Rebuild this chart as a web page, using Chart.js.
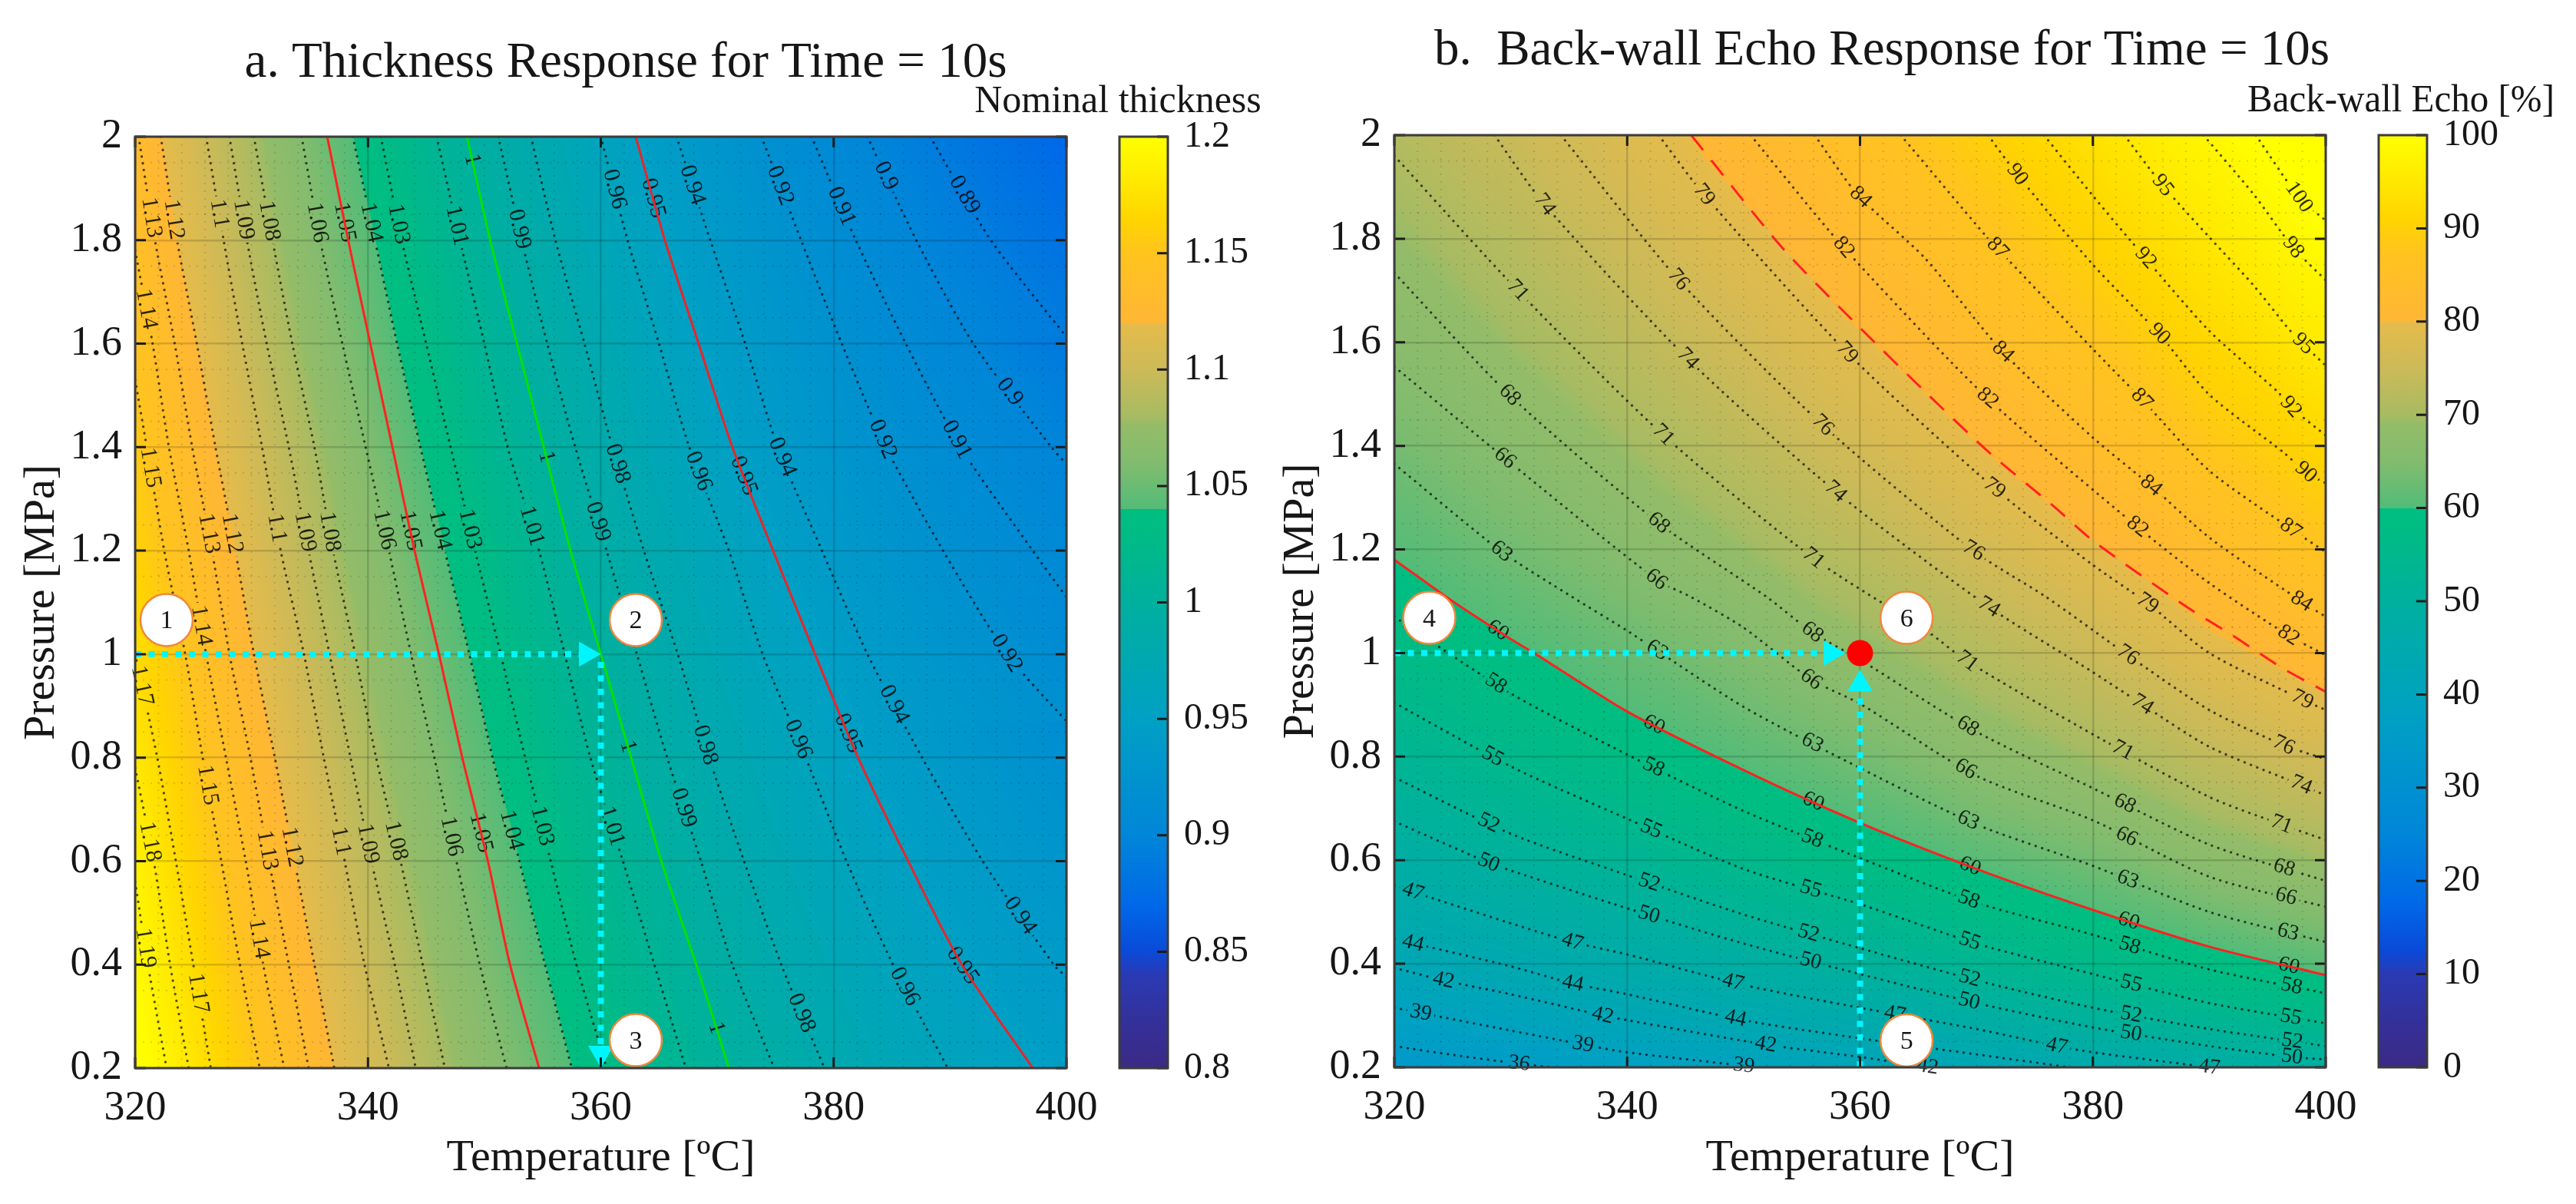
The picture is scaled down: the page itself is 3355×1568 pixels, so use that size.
<!DOCTYPE html>
<html>
<head>
<meta charset="utf-8">
<title>Thickness and back-wall echo response</title>
<script src="https://cdn.jsdelivr.net/npm/chart.js@4"></script>
<style>
  html, body { margin: 0; padding: 0; background: #fff; }
  body { position: relative; width: 3355px; height: 1568px; overflow: hidden; }
  canvas { position: absolute; top: 0; }
</style>
</head>
<body>
<canvas id="mainA" width="1630" height="1568" style="left:0"></canvas>
<canvas id="barA" width="400" height="1568" style="left:1256px"></canvas>
<canvas id="mainB" width="1622" height="1568" style="left:1640px"></canvas>
<canvas id="barB" width="400" height="1568" style="left:2927px"></canvas>
<script>
// tick values
const tempTicks = [320, 340, 360, 380, 400];
const pressTicks = [0.2, 0.4, 0.6, 0.8, 1, 1.2, 1.4, 1.6, 1.8, 2];
const thickBarTicks = [0.8, 0.85, 0.9, 0.95, 1, 1.05, 1.1, 1.15, 1.2];
const echoBarTicks = [0, 10, 20, 30, 40, 50, 60, 70, 80, 90, 100];

// colour bar (position 0..1 along the bar)
const mapStops = [0, 0.05, 0.1, 0.125, 0.175, 0.25, 0.375, 0.5, 0.575, 0.6, 0.6, 0.65, 0.69, 0.7, 0.75, 0.8, 0.8, 0.875, 0.91, 0.95, 1];
const mapColors = ['#3b2a85', '#34309a', '#2a3ab4', '#0a4ad8', '#0068e8', '#0086d8', '#00a0c4', '#00b09e', '#00bc84', '#00be80',
  '#52bc78', '#82bc6e', '#94bc68', '#a8bb62', '#ccba58', '#e6bb4a', '#ffb636', '#ffc41e', '#ffd400', '#ffe800', '#ffff00'];

// panel a: iso-thickness lines as [temperature, pressure]
const a119 = [[320, 0.56], [321.1, 0.4], [322.7, 0.2]];
const a118 = [[320, 0.78], [321.6, 0.6], [323, 0.4], [324.6, 0.2]];
const a117 = [[320, 1], [321.9, 0.8], [323.5, 0.6], [325, 0.4], [326.5, 0.2]];
const a115 = [[320, 1.53], [321, 1.4], [322.5, 1.2], [324.3, 1], [325.8, 0.8], [327.4, 0.6], [329, 0.4], [330.7, 0.2]];
const a114 = [[320, 1.78], [321.5, 1.6], [322.9, 1.4], [324.6, 1.2], [326.1, 1], [327.8, 0.8], [329.5, 0.6], [331, 0.4], [332.8, 0.2]];
const a113 = [[320.3, 2], [321.7, 1.8], [323.4, 1.6], [324.9, 1.4], [326.6, 1.2], [328.1, 1], [329.9, 0.8], [331.5, 0.6], [333.2, 0.4], [334.9, 0.2]];
const a112 = [[322.2, 2], [323.6, 1.8], [325.3, 1.6], [326.9, 1.4], [328.6, 1.2], [330.2, 1], [332, 0.8], [333.7, 0.6], [335.4, 0.4], [337.1, 0.2]];
const a110 = [[326.1, 2], [327.6, 1.8], [329.2, 1.6], [330.9, 1.4], [332.5, 1.2], [334.5, 1], [336.2, 0.8], [338, 0.6], [339.7, 0.4], [341.8, 0.2]];
const a109 = [[328.1, 2], [329.6, 1.8], [331.3, 1.6], [333.2, 1.4], [334.9, 1.2], [336.7, 1], [338.5, 0.8], [340.3, 0.6], [342.3, 0.4], [344.1, 0.2]];
const a108 = [[330.2, 2], [331.8, 1.8], [333.5, 1.6], [335.4, 1.4], [337, 1.2], [338.9, 1], [340.7, 0.8], [342.8, 0.6], [344.7, 0.4], [346.6, 0.2]];
const a106 = [[334.3, 2], [335.9, 1.8], [337.8, 1.6], [339.8, 1.4], [341.8, 1.2], [343.7, 1], [345.7, 0.8], [347.6, 0.6], [349.6, 0.4], [351.9, 0.2]];
const a105 = [[336.5, 2], [338.3, 1.8], [340.2, 1.6], [342.1, 1.4], [344, 1.2], [346.1, 1], [348.1, 0.8], [350.3, 0.6], [352.2, 0.4], [354.7, 0.2]];
const a104 = [[338.7, 2], [340.6, 1.8], [342.5, 1.6], [344.5, 1.4], [346.6, 1.2], [348.7, 1], [350.7, 0.8], [353, 0.6], [355.2, 0.4], [357.5, 0.2]];
const a103 = [[341.1, 2], [342.9, 1.8], [345, 1.6], [347.1, 1.4], [349.2, 1.2], [351.4, 1], [353.5, 0.8], [355.7, 0.6], [357.9, 0.4], [360.5, 0.2]];
const a101 = [[345.9, 2], [347.9, 1.8], [350, 1.6], [352, 1.4], [354.7, 1.2], [356.9, 1], [359.1, 0.8], [361.9, 0.6], [364.6, 0.4], [367.3, 0.2]];
const a100 = [[348.5, 2], [350.5, 1.8], [352.8, 1.6], [355.1, 1.4], [357.4, 1.2], [360, 1], [362.6, 0.8], [365.2, 0.6], [368.2, 0.4], [371, 0.2]];
const a099 = [[351.2, 2], [353.2, 1.8], [355.4, 1.6], [357.8, 1.4], [360.5, 1.2], [363.1, 1], [365.7, 0.8], [368.6, 0.6], [371.3, 0.4], [374.9, 0.2]];
const a098 = [[354, 2], [356.1, 1.8], [358.6, 1.6], [361, 1.4], [363.7, 1.2], [366.6, 1], [369.3, 0.8], [372.3, 0.6], [375.5, 0.4], [379.2, 0.2]];
const a096 = [[360, 2], [362.3, 1.8], [365, 1.6], [367.6, 1.4], [371, 1.2], [373.9, 1], [377.6, 0.8], [381.1, 0.6], [385.1, 0.4], [389.8, 0.2]];
const a095 = [[363, 2], [365.5, 1.8], [368.4, 1.6], [371.3, 1.4], [374.8, 1.2], [378.4, 1], [382.1, 0.8], [386.4, 0.6], [391, 0.4], [397.1, 0.2]];
const a094 = [[366.5, 2], [369.4, 1.8], [372.4, 1.6], [375.2, 1.4], [379, 1.2], [382.9, 1], [387.6, 0.8], [392.8, 0.6], [398.9, 0.4], [400, 0.376]];
const a092 = [[373.8, 2], [377.2, 1.8], [380.7, 1.6], [384.5, 1.4], [389.4, 1.2], [394.9, 1], [400, 0.87]];
const a091 = [[378.1, 2], [381.9, 1.8], [386.2, 1.6], [390.9, 1.4], [397.1, 1.2], [400, 1.11]];
const a090 = [[382.9, 2], [387.1, 1.8], [392, 1.6], [398.7, 1.4], [400, 1.367]];
const a089 = [[388.3, 2], [393.5, 1.8], [400, 1.613]];
const thickLevels = ['1.19', '1.18', '1.17', '1.15', '1.14', '1.13', '1.12', '1.1', '1.09', '1.08', '1.06', '1.05', '1.04', '1.03', '1.01', '1', '0.99', '0.98', '0.96', '0.95', '0.94', '0.92', '0.91', '0.9', '0.89'];
const thickLines = [a119, a118, a117, a115, a114, a113, a112, a110, a109, a108, a106, a105, a104, a103, a101, a100, a099, a098, a096, a095, a094, a092, a091, a090, a089];

// labels on the iso-thickness lines: [text, temperature, pressure]
const thickLabels = [
  ['1.13', 320.9, 1.842], ['1.12', 323.1, 1.839], ['1.1', 326.9, 1.85], ['1.09', 329.1, 1.839], ['1.08', 331.2, 1.836],
  ['1.06', 335.4, 1.833], ['1.05', 337.6, 1.833], ['1.04', 340.1, 1.833], ['1.03', 342.4, 1.83], ['1.01', 347.4, 1.827],
  ['1', 349, 1.956], ['0.99', 352.8, 1.82], ['1.14', 320.8, 1.666], ['1.15', 321.2, 1.36], ['1.13', 326.1, 1.232],
  ['1.12', 328.1, 1.232], ['1.1', 332, 1.243], ['1.09', 334.3, 1.235], ['1.08', 336.4, 1.235], ['1.06', 341, 1.238],
  ['1.05', 343.5, 1.238], ['1.04', 345.8, 1.238], ['1.03', 348.4, 1.24], ['1.01', 353.8, 1.246], ['1', 355.1, 1.38],
  ['0.99', 359.2, 1.252], ['0.96', 360.9, 1.897], ['0.95', 364.3, 1.88], ['0.94', 367.4, 1.903], ['0.92', 375.1, 1.903],
  ['0.91', 380.3, 1.862], ['0.9', 384.2, 1.921], ['0.89', 390.9, 1.883], ['0.9', 394.8, 1.501], ['0.92', 384.3, 1.416],
  ['0.91', 390.2, 1.41], ['0.94', 375.6, 1.381], ['0.95', 372.1, 1.343], ['0.96', 368.2, 1.352], ['0.98', 361.3, 1.367],
  ['1.14', 325.7, 1.055], ['1.17', 320.8, 0.94], ['1.15', 326, 0.746], ['1.18', 321.2, 0.637], ['1.13', 331.1, 0.62],
  ['1.12', 333.2, 0.626], ['1.1', 337.3, 0.637], ['1.09', 339.7, 0.632], ['1.08', 342, 0.637], ['1.06', 346.8, 0.646],
  ['1.05', 349.2, 0.652], ['1.04', 352, 0.658], ['1.03', 354.8, 0.667], ['1.19', 320.9, 0.432], ['1.14', 330.4, 0.449],
  ['1.17', 325.3, 0.344], ['0.92', 394.9, 1.002], ['0.94', 384.9, 0.899], ['0.95', 380.8, 0.843], ['0.96', 376.5, 0.831],
  ['0.98', 368.8, 0.823], ['1', 362.1, 0.82], ['0.99', 367, 0.702], ['1.01', 360.9, 0.667], ['0.94', 395.6, 0.488],
  ['0.95', 391, 0.397], ['0.96', 385.9, 0.355], ['0.98', 377.2, 0.306], ['1', 369.7, 0.276]
];

// panel b: iso-echo lines as [temperature, pressure]
const b36 = [[320, 0.241], [325, 0.224], [330, 0.209], [333.5, 0.2]];
const b39 = [[320, 0.315], [330, 0.271], [336.2, 0.244], [340, 0.229], [350, 0.203], [351, 0.2]];
const b42 = [[320, 0.392], [324.2, 0.368], [330, 0.341], [337.9, 0.3], [340, 0.291], [351.9, 0.244], [360, 0.22], [366, 0.2]];
const b44 = [[320, 0.448], [330, 0.395], [335.3, 0.362], [340, 0.341], [350, 0.291], [360, 0.256], [370, 0.225], [378, 0.2]];
const b47 = [[320, 0.551], [321.6, 0.539], [330, 0.478], [335.3, 0.442], [340, 0.418], [350, 0.359], [360, 0.315], [370, 0.274], [376.9, 0.241], [380, 0.229], [390, 0.2]];
const b50 = [[320, 0.675], [328.1, 0.595], [330, 0.58], [340, 0.507], [350, 0.439], [360, 0.38], [370, 0.324], [380, 0.277], [390, 0.241], [397.1, 0.22], [400, 0.215]];
const b52 = [[320, 0.76], [330, 0.651], [340, 0.571], [350, 0.495], [360, 0.43], [370, 0.368], [380, 0.315], [390, 0.274], [400, 0.241]];
const b55 = [[320, 0.904], [330, 0.781], [340, 0.68], [350, 0.583], [360, 0.515], [370, 0.439], [380, 0.38], [390, 0.324], [400, 0.285]];
const b58 = [[320, 1.07], [330, 0.922], [340, 0.804], [350, 0.695], [360, 0.604], [370, 0.518], [380, 0.456], [390, 0.389], [400, 0.343]];
const b60 = [[320, 1.18], [325, 1.1], [330, 1.027], [332, 1], [340, 0.887], [350, 0.774], [360, 0.672], [370, 0.583], [380, 0.504], [390, 0.433], [400, 0.378]];
const b63 = [[320, 1.365], [329.2, 1.196], [335.3, 1.108], [340, 1.043], [350, 0.896], [360, 0.778], [370, 0.669], [380, 0.589], [390, 0.5], [400, 0.442]];
const b66 = [[320, 1.553], [329.5, 1.376], [342.5, 1.142], [345.5, 1.108], [350, 1.049], [355.8, 0.949], [360, 0.902], [370, 0.763], [380, 0.677], [390, 0.568], [400, 0.51]];
const b68 = [[320, 1.734], [329.9, 1.498], [342.7, 1.251], [352, 1.108], [355.9, 1.04], [360, 0.987], [370, 0.848], [380, 0.739], [390, 0.63], [400, 0.56]];
const b71 = [[320, 1.96], [330.6, 1.7], [343.1, 1.421], [356, 1.183], [365.9, 1.04], [369.2, 0.984], [380, 0.843], [390, 0.722], [396.2, 0.669], [400, 0.639]];
const b74 = [[328.6, 2], [332.9, 1.866], [345.2, 1.568], [357.9, 1.312], [371, 1.09], [380, 0.963], [384.3, 0.9], [390, 0.819], [397.9, 0.745], [400, 0.725]];
const b76 = [[334.3, 2], [344.4, 1.721], [356.8, 1.44], [369.7, 1.198], [376, 1.108], [383, 0.996], [390, 0.89], [396.4, 0.822], [400, 0.795]];
const b79 = [[342.7, 2], [346.6, 1.885], [358.9, 1.58], [371.5, 1.319], [380, 1.17], [384.7, 1.096], [390, 1], [398, 0.91], [400, 0.89]];
const b82 = [[350.6, 2], [358.6, 1.783], [370.9, 1.493], [383.8, 1.244], [390, 1.135], [396.8, 1.034], [400, 0.996]];
const b84 = [[356.1, 2], [359.8, 1.885], [365.6, 1.762], [372.2, 1.583], [380, 1.416], [385, 1.323], [390, 1.223], [397.9, 1.1], [400, 1.07]];
const b87 = [[363.5, 2], [370.9, 1.803], [372.7, 1.76], [380, 1.587], [384.2, 1.49], [390, 1.352], [397, 1.24], [400, 1.195]];
const b90 = [[371, 2], [373.5, 1.924], [380, 1.75], [385.7, 1.616], [390, 1.499], [396.4, 1.387], [398.3, 1.349], [400, 1.328]];
const b92 = [[375.8, 2], [380, 1.883], [383.4, 1.792], [390, 1.622], [395.9, 1.504], [397, 1.475], [400, 1.42]];
const b95 = [[382.7, 2], [386, 1.903], [390, 1.803], [393.8, 1.71], [397.2, 1.616], [400, 1.555]];
const b98 = [[389.5, 2], [393.8, 1.886], [397.2, 1.783], [400, 1.72]];
const b100 = [[394, 2], [397.7, 1.88], [400, 1.835]];
const echoLevels = ['36', '39', '42', '44', '47', '50', '52', '55', '58', '60', '63', '66', '68', '71', '74', '76', '79', '82', '84', '87', '90', '92', '95', '98', '100'];
const echoLines = [b36, b39, b42, b44, b47, b50, b52, b55, b58, b60, b63, b66, b68, b71, b74, b76, b79, b82, b84, b87, b90, b92, b95, b98, b100];

// the red dashed limit in panel b
const echoLimit = [[345.5, 2], [353.3, 1.783], [360, 1.628], [365.8, 1.5], [371.1, 1.387], [376.6, 1.284], [380, 1.217], [388, 1.09], [392, 1.034], [396.2, 0.972], [400, 0.925]];

const echoLabels = [
  ['60', 328.7, 1.037], ['63', 342.3, 0.996], ['68', 355.9, 1.04], ['58', 328.6, 0.937], ['66', 355.8, 0.949], ['60', 342.2, 0.857],
  ['63', 355.8, 0.822], ['55', 328.4, 0.798], ['58', 342.1, 0.772], ['60', 355.8, 0.704], ['52', 328.1, 0.672], ['55', 342, 0.657],
  ['58', 355.8, 0.636], ['50', 328.1, 0.595], ['52', 341.8, 0.551], ['55', 355.7, 0.539], ['47', 321.6, 0.539], ['50', 341.8, 0.489],
  ['52', 355.5, 0.453], ['47', 335.3, 0.442], ['50', 355.7, 0.4], ['44', 321.6, 0.439], ['47', 349.1, 0.365], ['42', 324.2, 0.365],
  ['44', 335.3, 0.359], ['42', 337.9, 0.3], ['44', 349.3, 0.294], ['39', 322.2, 0.297], ['39', 336.2, 0.244], ['42', 351.9, 0.244],
  ['36', 330.7, 0.203], ['39', 350, 0.2], ['74', 371.1, 1.09], ['79', 384.7, 1.096], ['84', 397.9, 1.099], ['82', 396.8, 1.034],
  ['76', 383, 0.996], ['71', 369.2, 0.984], ['74', 384.3, 0.902], ['79', 398, 0.91], ['68', 369.3, 0.86], ['71', 382.6, 0.813],
  ['76', 396.4, 0.822], ['66', 369.3, 0.784], ['74', 397.9, 0.745], ['68', 382.7, 0.707], ['63', 369.3, 0.677], ['71', 396.2, 0.669],
  ['66', 382.9, 0.645], ['60', 369.3, 0.58], ['68', 396.4, 0.583], ['63', 382.9, 0.557], ['66', 396.6, 0.53], ['58', 369.3, 0.521],
  ['60', 383, 0.477], ['63', 396.7, 0.456], ['55', 369.4, 0.442], ['58', 383.1, 0.43], ['60', 396.8, 0.392], ['52', 369.4, 0.371],
  ['55', 383.3, 0.362], ['58', 397, 0.35], ['50', 369.4, 0.33], ['52', 383.3, 0.303], ['55', 397, 0.297], ['47', 363, 0.303],
  ['50', 383.3, 0.268], ['52', 397.1, 0.247], ['47', 376.9, 0.241], ['50', 397.1, 0.22], ['42', 365.8, 0.2], ['47', 390.7, 0.2],
  ['90', 373.5, 1.924], ['95', 386, 1.903], ['100', 397.7, 1.88], ['84', 359.9, 1.877], ['87', 371.6, 1.777], ['92', 384.4, 1.76],
  ['98', 397.2, 1.783], ['90', 385.7, 1.616], ['95', 398.1, 1.598], ['84', 372.2, 1.58], ['82', 371, 1.493], ['87', 384.2, 1.49],
  ['92', 397, 1.475], ['90', 398.3, 1.349], ['79', 371.6, 1.32], ['84', 385, 1.323], ['82', 383.8, 1.243], ['87', 397, 1.24],
  ['76', 369.8, 1.199], ['74', 332.9, 1.866], ['79', 346.6, 1.885], ['71', 330.6, 1.7], ['76', 344.4, 1.721], ['82', 358.6, 1.783],
  ['74', 345.2, 1.568], ['79', 358.9, 1.58], ['68', 329.9, 1.498], ['71', 343.1, 1.421], ['76', 356.8, 1.44], ['66', 329.5, 1.376],
  ['74', 357.9, 1.312], ['68', 342.7, 1.251], ['63', 329.2, 1.196], ['71', 356, 1.183], ['66', 342.5, 1.142]
];

// the reading arrows and numbered markers
const thickArrowH = [[320, 1], [358.6, 1]];
const thickArrowV = [[360, 0.985], [360, 0.24]];
const thickHeads = [[358.75, 1], [360, 0.229]];
const thickHeadTurn = [90, 180];
const thickMarkers = [[322.7, 1.066], [363, 1.066], [363, 0.254]];
const thickMarkerText = ['1', '2', '3'];
const echoArrowH = [[320, 1], [357, 1]];
const echoArrowV = [[360, 0.2], [360, 0.93]];
const echoHeads = [[357.5, 1], [360, 0.94]];
const echoHeadTurn = [90, 0];
const echoDot = [[360, 1]];
const echoMarkers = [[323, 1.068], [364, 0.252], [364, 1.068]];
const echoMarkerText = ['4', '5', '6'];

const serif = 'Liberation Serif';
const ink = '#161616';

// 1024 entry colour table
const lut = (function () {
  const rgb = mapColors.map(c => [parseInt(c.slice(1, 3), 16), parseInt(c.slice(3, 5), 16), parseInt(c.slice(5, 7), 16)]);
  const table = [];
  for (let i = 0; i < 1024; i++) {
    const f = i / 1023;
    let k = 0;
    while (k < mapStops.length - 2 && f >= mapStops[k + 1]) k++;
    const span = mapStops[k + 1] - mapStops[k];
    const t = span > 0 ? (f - mapStops[k]) / span : 0;
    table.push(rgb[k].map((v, n) => v + (rgb[k + 1][n] - v) * t));
  }
  return table;
})();

// where a contour passes a given value of one coordinate
function crossing(line, ax, v) {
  for (let i = 0; i < line.length - 1; i++) {
    const a = line[i][ax], b = line[i + 1][ax];
    if ((a <= v && v <= b) || (b <= v && v <= a)) {
      const t = a === b ? 0 : (v - a) / (b - a);
      return line[i][1 - ax] + (line[i + 1][1 - ax] - line[i][1 - ax]) * t;
    }
  }
  return null;
}

function valueOn(list, q) {
  let k = 0;
  while (k < list.length - 2 && q > list[k + 1][0]) k++;
  const p0 = list[k], p1 = list[k + 1];
  return p0[1] + (p1[1] - p0[1]) * (q - p0[0]) / (p1[0] - p0[0]);
}

// paints the response surface from the contours, one scan line at a time
function paintField(chart, cfg) {
  const area = chart.chartArea, xs = chart.scales.x, ys = chart.scales.y;
  const w = Math.round(area.right - area.left), h = Math.round(area.bottom - area.top);
  const off = document.createElement('canvas');
  off.width = w; off.height = h;
  const c = off.getContext('2d');
  const img = c.createImageData(w, h);
  const levels = cfg.levels.map(parseFloat);
  const scanX = cfg.scan === 'x';
  const outer = scanX ? w : h, inner = scanX ? h : w;
  for (let o = 0; o < outer; o++) {
    const v = scanX ? xs.getValueForPixel(area.left + o) : ys.getValueForPixel(area.top + o);
    const list = [];
    cfg.lines.forEach((line, n) => {
      const q = crossing(line, scanX ? 0 : 1, v);
      if (q !== null) list.push([q, levels[n]]);
    });
    list.sort((a, b) => a[0] - b[0]);
    for (let i = 0; i < inner; i++) {
      const q = scanX ? ys.getValueForPixel(area.top + i) : xs.getValueForPixel(area.left + i);
      const f = (valueOn(list, q) - cfg.min) / (cfg.max - cfg.min);
      const col = lut[Math.max(0, Math.min(1023, Math.round(f * 1023)))];
      const at = ((scanX ? i * w + o : o * w + i)) * 4;
      img.data[at] = col[0]; img.data[at + 1] = col[1]; img.data[at + 2] = col[2]; img.data[at + 3] = 255;
    }
  }
  c.putImageData(img, 0, 0);
  return off;
}

// snaps the labels onto their contour and works out their angle
function placeLabels(chart, cfg) {
  const ctx = chart.ctx, xs = chart.scales.x, ys = chart.scales.y;
  ctx.font = cfg.labelSize + 'px "' + serif + '"';
  return cfg.labels.map(item => {
    const line = cfg.lines[cfg.levels.indexOf(item[0])];
    const px = xs.getPixelForValue(item[1]), py = ys.getPixelForValue(item[2]);
    let best = null;
    for (let i = 0; i < line.length - 1; i++) {
      const ax = xs.getPixelForValue(line[i][0]), ay = ys.getPixelForValue(line[i][1]);
      const bx = xs.getPixelForValue(line[i + 1][0]), by = ys.getPixelForValue(line[i + 1][1]);
      const dx = bx - ax, dy = by - ay;
      const t = Math.max(0, Math.min(1, ((px - ax) * dx + (py - ay) * dy) / (dx * dx + dy * dy)));
      const sx = ax + dx * t, sy = ay + dy * t;
      const d = (sx - px) * (sx - px) + (sy - py) * (sy - py);
      if (!best || d < best.d) best = { d, x: sx, y: sy, angle: Math.atan2(dx > 0 ? dy : -dy, Math.abs(dx)) };
    }
    return { text: item[0], x: best.x, y: best.y, angle: best.angle, width: ctx.measureText(item[0]).width + 8 };
  });
}

function panelPlugin(cfg) {
  return {
    id: 'panel',
    beforeDraw(chart) {
      if (!chart.$field) {
        chart.$field = paintField(chart, cfg);
        chart.$labels = placeLabels(chart, cfg);
      }
      const a = chart.chartArea;
      chart.ctx.drawImage(chart.$field, a.left, a.top, a.right - a.left, a.bottom - a.top);
    },
    beforeDatasetsDraw(chart) {
      const ctx = chart.ctx, a = chart.chartArea, xs = chart.scales.x, ys = chart.scales.y;
      // faint dotted minor grid
      ctx.save();
      ctx.strokeStyle = 'rgba(0,0,0,0.13)';
      ctx.lineWidth = 2;
      ctx.setLineDash([2, 8]);
      for (let t = 322; t < 400; t += 2) {
        if (t % 20 === 0) continue;
        const x = xs.getPixelForValue(t);
        ctx.beginPath(); ctx.moveTo(x, a.top); ctx.lineTo(x, a.bottom); ctx.stroke();
      }
      for (let p = 0.25; p < 2; p += 0.1) {
        const y = ys.getPixelForValue(p);
        ctx.beginPath(); ctx.moveTo(a.left, y); ctx.lineTo(a.right, y); ctx.stroke();
      }
      ctx.restore();
      // contour labels
      ctx.save();
      ctx.fillStyle = 'rgba(0,0,0,0.82)';
      ctx.font = cfg.labelSize + 'px "' + serif + '"';
      ctx.textAlign = 'center';
      ctx.textBaseline = 'middle';
      chart.$labels.forEach(l => {
        ctx.save();
        ctx.translate(l.x, l.y);
        ctx.rotate(l.angle);
        ctx.fillText(l.text, 0, 0);
        ctx.restore();
      });
      ctx.restore();
    },
    // dotted contours stop at their labels
    beforeDatasetDraw(chart, args) {
      const ds = chart.data.datasets[args.index];
      if (!ds.gapFor) return;
      const ctx = chart.ctx;
      ctx.save();
      ctx.beginPath();
      ctx.rect(0, 0, chart.width, chart.height);
      chart.$labels.filter(l => l.text === ds.gapFor).forEach(l => {
        const c = Math.cos(l.angle), s = Math.sin(l.angle), hw = l.width / 2, hh = cfg.labelSize * 0.55;
        ctx.moveTo(l.x - c * hw + s * hh, l.y - s * hw - c * hh);
        ctx.lineTo(l.x + c * hw + s * hh, l.y + s * hw - c * hh);
        ctx.lineTo(l.x + c * hw - s * hh, l.y + s * hw + c * hh);
        ctx.lineTo(l.x - c * hw - s * hh, l.y - s * hw + c * hh);
        ctx.closePath();
      });
      ctx.clip('evenodd');
    },
    afterDatasetDraw(chart, args) {
      if (chart.data.datasets[args.index].gapFor) chart.ctx.restore();
    },
    afterDatasetsDraw(chart) {
      const ctx = chart.ctx, xs = chart.scales.x, ys = chart.scales.y;
      ctx.save();
      ctx.fillStyle = ink;
      ctx.font = '34px "' + serif + '"';
      ctx.textAlign = 'center';
      ctx.textBaseline = 'middle';
      cfg.markers.forEach((m, i) => ctx.fillText(cfg.markerText[i], xs.getPixelForValue(m[0]), ys.getPixelForValue(m[1]) + 2));
      ctx.restore();
    }
  };
}

// box outline and inward tick marks, the way the reference has them
const frame = {
  id: 'frame',
  afterDraw(chart) {
    const ctx = chart.ctx, a = chart.chartArea, xs = chart.scales.x, ys = chart.scales.y;
    const both = xs.options.display;
    ctx.save();
    ctx.strokeStyle = '#1c1c1c';
    ctx.lineWidth = 3;
    ctx.beginPath();
    ys.ticks.forEach(t => {
      const y = ys.getPixelForValue(t.value);
      ctx.moveTo(a.right, y); ctx.lineTo(a.right - 14, y);
      if (both) { ctx.moveTo(a.left, y); ctx.lineTo(a.left + 14, y); }
    });
    if (both) {
      xs.ticks.forEach(t => {
        const x = xs.getPixelForValue(t.value);
        ctx.moveTo(x, a.bottom); ctx.lineTo(x, a.bottom - 14);
        ctx.moveTo(x, a.top); ctx.lineTo(x, a.top + 14);
      });
    }
    ctx.stroke();
    ctx.strokeStyle = '#3c3c3c';
    ctx.strokeRect(a.left, a.top, a.right - a.left, a.bottom - a.top);
    ctx.restore();
  }
};

const toPoints = line => line.map(p => ({ x: p[0], y: p[1] }));
const plainNumber = v => String(+(+v).toFixed(2));

// an empty axis that only reserves room, so the title still centres on the whole canvas
function spacerAxis(side, size) {
  return {
    type: 'linear', position: side,
    afterFit: s => { s.width = size; },
    grid: { display: false, drawTicks: false }, border: { display: false }, ticks: { display: false }
  };
}

function contourSets(lines, levels, specials) {
  return lines.map((line, i) => {
    const color = specials[levels[i]];
    const set = { data: toPoints(line), showLine: true, pointRadius: 0, tension: 0.25, order: 6 };
    if (color) {
      set.borderColor = color; set.borderWidth = 3; set.order = 5;
    } else {
      set.borderColor = 'rgba(0,0,0,0.68)'; set.borderWidth = 3.2;
      set.borderDash = [0.1, 8.7]; set.borderCapStyle = 'round'; set.gapFor = levels[i];
    }
    return set;
  });
}

function arrowSet(line) {
  return { data: toPoints(line), showLine: true, pointRadius: 0, borderColor: '#00f6ff', borderWidth: 8, borderDash: [8, 9.5], order: 3 };
}
function headSet(points, turns) {
  return {
    data: toPoints(points), showLine: false, pointStyle: 'triangle', pointRotation: turns, pointRadius: 19,
    pointBackgroundColor: '#00f6ff', pointBorderColor: '#00f6ff', pointBorderWidth: 0, order: 2, clip: false
  };
}
function markerSet(points) {
  return {
    data: toPoints(points), showLine: false, pointRadius: 34, pointBackgroundColor: '#ffffff',
    pointBorderColor: '#f0873c', pointBorderWidth: 2.5, order: 1, clip: false
  };
}

function mainChart(id, o) {
  return new Chart(document.getElementById(id), {
    type: 'scatter',
    data: { datasets: o.datasets },
    plugins: [panelPlugin(o.panel), frame],
    options: {
      responsive: false, animation: false, devicePixelRatio: 1, events: [],
      plugins: {
        legend: { display: false }, tooltip: { enabled: false },
        title: {
          display: true, text: o.title, color: ink,
          font: { family: serif, size: 65, weight: 'normal', lineHeight: 1.2 },
          padding: { top: o.titleTop, bottom: o.titleBottom }
        }
      },
      scales: {
        x: {
          type: 'linear', min: 320, max: 400,
          afterBuildTicks: s => { s.ticks = tempTicks.map(v => ({ value: v })); },
          afterFit: s => { s.height = 1568 - o.plotBottom; },
          grid: { color: 'rgba(0,0,0,0.15)', lineWidth: 2.5, drawTicks: false },
          border: { display: false },
          ticks: { color: ink, font: { family: serif, size: 54 }, padding: 20, maxRotation: 0, autoSkip: false, callback: plainNumber },
          title: { display: true, text: 'Temperature [ºC]', color: ink, font: { family: serif, size: 58, lineHeight: 1.2 }, padding: { top: 0, bottom: 24 } }
        },
        y: {
          type: 'linear', min: 0.2, max: 2,
          afterBuildTicks: s => { s.ticks = pressTicks.map(v => ({ value: v })); },
          afterFit: s => { s.width = 176; },
          grid: { color: 'rgba(0,0,0,0.15)', lineWidth: 2.5, drawTicks: false },
          border: { display: false },
          ticks: { color: ink, font: { family: serif, size: 54 }, padding: 17, autoSkip: false, callback: plainNumber },
          title: { display: true, text: 'Pressure [MPa]', color: ink, font: { family: serif, size: 58, lineHeight: 1.2 }, padding: { top: 20, bottom: 0 } }
        },
        spacer: spacerAxis('right', o.rightRoom)
      }
    }
  });
}

function barChart(id, o) {
  return new Chart(document.getElementById(id), {
    type: 'bar',
    data: {
      labels: [''],
      datasets: [{
        data: [[o.min, o.max]], barPercentage: 1, categoryPercentage: 1,
        backgroundColor(ctx) {
          const a = ctx.chart.chartArea;
          if (!a) return mapColors[0];
          const g = ctx.chart.ctx.createLinearGradient(0, a.bottom, 0, a.top);
          mapStops.forEach((s, i) => g.addColorStop(s, mapColors[i]));
          return g;
        }
      }]
    },
    plugins: [frame],
    options: {
      responsive: false, animation: false, devicePixelRatio: 1, events: [],
      layout: { padding: { bottom: 1568 - o.plotBottom } },
      plugins: {
        legend: { display: false }, tooltip: { enabled: false },
        title: {
          display: true, text: o.title, color: ink,
          font: { family: serif, size: 50, weight: 'normal', lineHeight: 1.2 },
          padding: { top: o.titleTop, bottom: o.titleBottom }
        }
      },
      scales: {
        x: { display: false },
        y: {
          position: 'right', min: o.min, max: o.max,
          afterBuildTicks: s => { s.ticks = o.ticks.map(v => ({ value: v })); },
          afterFit: s => { s.width = 400 - o.leftRoom - 63; },
          grid: { display: false, drawTicks: false },
          border: { display: false },
          ticks: { color: ink, font: { family: serif, size: 48 }, padding: 21, crossAlign: 'near', autoSkip: false, callback: plainNumber }
        },
        spacer: spacerAxis('left', o.leftRoom)
      }
    }
  });
}

mainChart('mainA', {
  title: 'a. Thickness Response for Time = 10s', titleTop: 44, titleBottom: 56, rightRoom: 241, plotBottom: 1391,
  panel: { lines: thickLines, levels: thickLevels, labels: thickLabels, labelSize: 30, scan: 'y', min: 0.8, max: 1.2, markers: thickMarkers, markerText: thickMarkerText },
  datasets: contourSets(thickLines, thickLevels, { '1.05': '#ff2222', '1': '#00e400', '0.95': '#e8262a' })
    .concat([arrowSet(thickArrowH), arrowSet(thickArrowV), headSet(thickHeads, thickHeadTurn), markerSet(thickMarkers)])
});

mainChart('mainB', {
  title: 'b.  Back-wall Echo Response for Time = 10s', titleTop: 28, titleBottom: 70, rightRoom: 233, plotBottom: 1390,
  panel: { lines: echoLines, levels: echoLevels, labels: echoLabels, labelSize: 28, scan: 'x', min: 0, max: 100, markers: echoMarkers, markerText: echoMarkerText },
  datasets: contourSets(echoLines, echoLevels, { '60': '#ff2222' })
    .concat([
      { data: toPoints(echoLimit), showLine: true, pointRadius: 0, tension: 0.25, borderColor: '#ff2222', borderWidth: 3, borderDash: [25, 17], order: 5 },
      arrowSet(echoArrowH), arrowSet(echoArrowV), headSet(echoHeads, echoHeadTurn),
      { data: toPoints(echoDot), showLine: false, pointRadius: 17, pointBackgroundColor: '#ff0000', pointBorderWidth: 0, order: 2, clip: false },
      markerSet(echoMarkers)
    ])
});

barChart('barA', { title: 'Nominal thickness', min: 0.8, max: 1.2, ticks: thickBarTicks, leftRoom: 202, titleTop: 103, titleBottom: 15, plotBottom: 1391 });
barChart('barB', { title: 'Back-wall Echo [%]', min: 0, max: 100, ticks: echoBarTicks, leftRoom: 171, titleTop: 102, titleBottom: 14, plotBottom: 1390 });
</script>
</body>
</html>
